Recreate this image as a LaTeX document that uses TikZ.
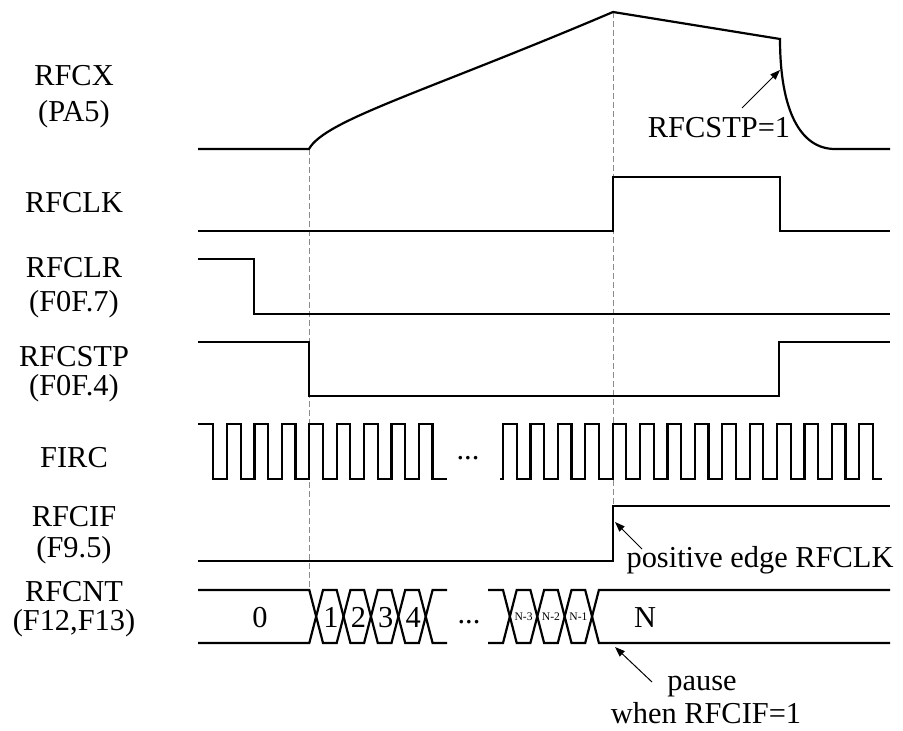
\documentclass[tikz,border=0pt]{standalone}
\usepackage{fontspec}
\setmainfont{Liberation Serif}
\usetikzlibrary{arrows.meta}
\definecolor{Wave}{HTML}{000000}
\definecolor{Guide}{HTML}{8C8C8C}

\begin{document}
\begin{tikzpicture}[x=0.5pt,y=-0.5pt,
  sig/.style={Wave,line width=1.1pt,line join=miter},
  guide/.style={Guide,line width=0.5pt,dash pattern=on 3pt off 1.5pt},
  note/.style={-{Triangle[length=5pt,width=3.6pt]},line width=0.5pt},
  lbl/.style={font=\fontsize{15.2}{18}\selectfont,anchor=base,inner sep=0pt},
  tiny/.style={font=\fontsize{5.8}{7}\selectfont,inner sep=0pt}]
  \useasboundingbox (0,0) rectangle (903,731);
  \def\hp{13.7}
  \foreach \nm/\y/\t in {rfcx/86/RFCX,pafive/122/(PA5),rfclk/213/RFCLK,
    rfclr/278/RFCLR,fofseven/312/(F0F.7),rfcstp/367/RFCSTP,foffour/395/(F0F.4),
    firc/467/FIRC,rfcif/526/RFCIF,fninefive/557/(F9.5),rfcnt/601/RFCNT,
    ftwelve/630/{(F12,F13)}} {
    \node[lbl] (\nm) at (74,\y) {\t};
  }
  \draw[guide] (309,149) -- (309,590);
  \draw[guide] (613,12) -- (613,506);
  \draw[sig] (198,149) -- (309,149) .. controls (325,120) and (425,92) .. (613,12)
    -- (780,39) .. controls (780,110) and (800,149) .. (835,149) -- (890,149);
  \draw[sig] (198,231) -- (613,231) -- (613,177) -- (780,177) -- (780,231) -- (890,231);
  \draw[sig] (198,259) -- (254,259) -- (254,314) -- (890,314);
  \draw[sig] (198,342) -- (309,342) -- (309,396) -- (779,396) -- (779,342) -- (890,342);
  \draw[sig] (198,424) -- (213.3,424) foreach \k in {1,...,8} {
    -- ++(0,55) -- ++(\hp,0) -- ++(0,-55) -- ++(\hp,0) } -- ++(0,55) -- (447,479);
  \draw[sig] (500,479) -- (503,479) foreach \k in {1,...,13} {
    -- ++(0,-55) -- ++(\hp,0) -- ++(0,55) -- ++(\hp,0) }
    -- ++(0,-55) -- ++(\hp,0) -- ++(0,55) -- (882,479);
  \node[lbl] (firdots) at (468,459) {...};
  \draw[sig] (198,561) -- (613,561) -- (613,506) -- (890,506);
  \draw[sig] (198,590) -- (309.3,590) foreach \k in {1,2} {
    -- ++(\hp,53) -- ++(\hp,0) -- ++(\hp,-53) -- ++(\hp,0) } -- ++(\hp,53) -- (447,643);
  \draw[sig] (198,643) -- (309.3,643) foreach \k in {1,2} {
    -- ++(\hp,-53) -- ++(\hp,0) -- ++(\hp,53) -- ++(\hp,0) } -- ++(\hp,-53) -- (447,590);
  \draw[sig] (488,590) -- (503,590) foreach \k in {1,2} {
    -- ++(\hp,53) -- ++(\hp,0) -- ++(\hp,-53) -- ++(\hp,0) } -- (890,590);
  \draw[sig] (488,643) -- (503,643) foreach \k in {1,2} {
    -- ++(\hp,-53) -- ++(\hp,0) -- ++(\hp,53) -- ++(\hp,0) } -- (890,643);
  \node[lbl] (cntzero) at (260,627) {0};
  \foreach \k/\t in {0/1,1/2,2/3,3/4} {
    \node[lbl] (cnt\t) at ({331+27.4*\k},627) {\t};
  }
  \node[lbl] (cntdots) at (469,623) {...};
  \foreach \k/\t in {0/3,1/2,2/1} {
    \node[tiny] (cntn\t) at ({523.6+27.4*\k},617) {N-\t};
  }
  \node[lbl] (cntN) at (645,627) {N};
  \node[lbl] (stpnote) at (719,138) {RFCSTP=1};
  \node[lbl] (edgenote) at (760,567) {positive edge RFCLK};
  \node[lbl] (pausenote) at (702,690) {pause};
  \node[lbl] (whennote) at (706,723) {when RFCIF=1};
  \coordinate (stpTail) at (742,108);
  \coordinate (stpTip) at (780,70);
  \coordinate (edgeTail) at (642,549);
  \coordinate (edgeTip) at (615,522);
  \coordinate (pauseTail) at (652,682);
  \coordinate (pauseTip) at (615,647);
  \draw[note] (stpTail) -- (stpTip);
  \draw[note] (edgeTail) -- (edgeTip);
  \draw[note] (pauseTail) -- (pauseTip);
\end{tikzpicture}
\end{document}
